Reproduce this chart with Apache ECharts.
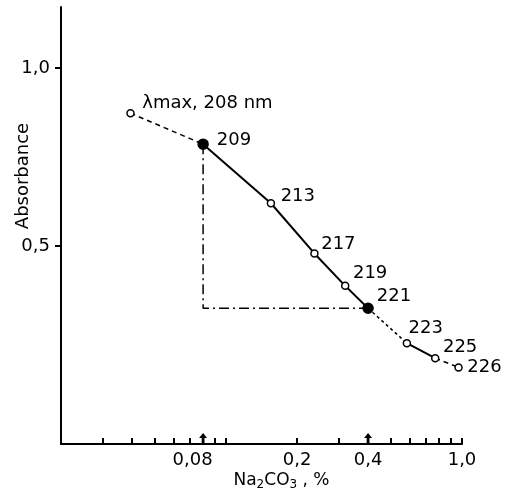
<!DOCTYPE html>
<html><head><meta charset="utf-8">
<script src="https://cdn.jsdelivr.net/npm/echarts@6/dist/echarts.min.js"></script>
<style>html,body{margin:0;padding:0;background:#fff}#c{width:511px;height:496px}</style>
</head><body><div id="c"></div>
<script>
// ---- data ----
const pointLabels   = ['λmax, 208 nm', '209', '213', '217', '219', '221', '223', '225', '226'];
const concentration = [0.0394, 0.08, 0.155, 0.237, 0.320, 0.40, 0.584, 0.770, 0.967];
const absorbance    = [0.873, 0.786, 0.620, 0.479, 0.388, 0.325, 0.227, 0.185, 0.159];
const filledPoints  = ['209', '221'];
const xTickValues   = [0.03, 0.04, 0.05, 0.06, 0.07, 0.08, 0.09, 0.1, 0.2, 0.3, 0.4, 0.5, 0.6, 0.7, 0.8, 0.9, 1.0];
const xLabelValues  = [0.08, 0.2, 0.4, 1.0];
const xLabelTexts   = ['0,08', '0,2', '0,4', '1,0'];
const yTickValues   = [0.5, 1.0];
const yLabelTexts   = ['0,5', '1,0'];
const arrowValues   = [0.08, 0.4];
const segmentTypes  = ['dashed', 'solid', 'solid', 'solid', 'solid', 'dotted', 'solid', 'dashed'];

// ---- styling ----
const X_MIN = 0.02, X_MAX = 1.0, Y_MIN = -0.0562, Y_MAX = 1.1713;
const FONT = 'DejaVu Sans';
const INK = '#000';
const labelOffsets = [[11, -10], [13, -4], [9, -7], [6, -9], [7, -13], [8, -12], [1, -15], [7, -11], [8, 0]];
const dashFor = { dashed: [5, 4], dotted: [3, 3], solid: 'solid' };

const lg = v => Math.log10(v);
const nearestIdx = (arr, v) => {
  let b = 0; for (let i = 1; i < arr.length; i++) if (Math.abs(arr[i] - v) < Math.abs(arr[b] - v)) b = i; return b;
};

const series = [];
for (let i = 0; i < concentration.length - 1; i++) {
  series.push({
    type: 'line', xAxisIndex: 0, yAxisIndex: 0, symbol: 'none', silent: true,
    data: [[concentration[i], absorbance[i]], [concentration[i + 1], absorbance[i + 1]]],
    lineStyle: { color: INK, width: segmentTypes[i] === 'solid' ? 2 : 1.5, type: dashFor[segmentTypes[i]] }
  });
}
const iA = pointLabels.indexOf(filledPoints[0]), iB = pointLabels.indexOf(filledPoints[1]);
series.push({
  type: 'line', xAxisIndex: 0, yAxisIndex: 0, symbol: 'none', silent: true,
  data: [[concentration[iA], absorbance[iA]], [concentration[iA], absorbance[iB]], [concentration[iB], absorbance[iB]]],
  lineStyle: { color: INK, width: 1.5, type: [10, 4, 2, 4] }
});
series.push({
  type: 'scatter', xAxisIndex: 0, yAxisIndex: 0, silent: true, clip: false, z: 5,
  data: pointLabels.map((name, i) => {
    const filled = filledPoints.includes(name);
    const size = filled ? 10 : 7;
    return {
      name, value: [concentration[i], absorbance[i]], symbolSize: size,
      itemStyle: { color: filled ? INK : '#fff', borderColor: INK, borderWidth: 1.5, opacity: 1 },
      label: {
        show: true, position: 'right', distance: 0, formatter: '{b}',
        offset: [labelOffsets[i][0] - size / 2, labelOffsets[i][1]],
        color: INK, opacity: 1, textBorderWidth: 0, fontFamily: FONT, fontSize: 18
      }
    };
  })
});
series.push({
  type: 'scatter', xAxisIndex: 0, yAxisIndex: 0, silent: true, clip: false, z: 6,
  symbol: 'path://M0,0 L4,5 L1.4,5 L1.4,11 L-1.4,11 L-1.4,5 L-4,5 Z',
  symbolSize: [8, 11], symbolOffset: [0, -5.5],
  itemStyle: { color: INK, opacity: 1 },
  data: arrowValues.map(v => [v, Y_MIN])
});

const option = {
  animation: false,
  backgroundColor: '#fff',
  grid: { left: 61, right: 49, top: 7, bottom: 52, containLabel: false, outerBoundsMode: 'none' },
  xAxis: [
    {
      type: 'log', logBase: 10, min: X_MIN, max: X_MAX, position: 'bottom',
      axisLine: { show: true, onZero: false, lineStyle: { color: INK, width: 2 } },
      axisTick: { show: false }, axisLabel: { show: false }, splitLine: { show: false }, minorTick: { show: false }
    },
    {
      type: 'value', min: lg(X_MIN), max: lg(X_MAX), position: 'bottom',
      axisLine: { show: false, onZero: false },
      axisTick: { show: true, inside: true, length: 6, customValues: xTickValues.map(lg), lineStyle: { color: INK, width: 2 } },
      axisLabel: {
        show: true, margin: 7, customValues: xLabelValues.map(lg),
        fontFamily: FONT, fontSize: 18, color: INK,
        formatter: v => {
          const i = nearestIdx(xLabelValues.map(lg), v);
          return i === 0 ? '{s|' + xLabelTexts[i] + '}' : xLabelTexts[i];
        },
        rich: { s: { fontFamily: FONT, fontSize: 18, color: INK, padding: [0, 21, 0, 0] } }
      },
      splitLine: { show: false },
      name: 'Na{sub|2}CO{sub|3} , %', nameLocation: 'middle', nameGap: 27, nameMoveOverlap: false,
      nameTextStyle: {
        fontFamily: FONT, fontSize: 17, color: INK, padding: [0, 0, 0, 40],
        rich: { sub: { fontFamily: FONT, fontSize: 12, color: INK, verticalAlign: 'bottom', padding: [8, 0, 0, 0] } }
      }
    }
  ],
  yAxis: {
    type: 'value', min: Y_MIN, max: Y_MAX, position: 'left',
    axisLine: { show: true, onZero: false, lineStyle: { color: INK, width: 2 } },
    axisTick: { show: true, inside: false, length: 6, customValues: yTickValues, lineStyle: { color: INK, width: 2 } },
    axisLabel: {
      show: true, margin: 11, customValues: yTickValues, fontFamily: FONT, fontSize: 18, color: INK,
      formatter: v => yLabelTexts[nearestIdx(yTickValues, v)]
    },
    splitLine: { show: false },
    name: 'Absorbance', nameLocation: 'middle', nameGap: 29, nameMoveOverlap: false,
    nameTextStyle: { fontFamily: FONT, fontSize: 18, color: INK, padding: [0, 0, 0, 99] }
  },
  series
};
echarts.init(document.getElementById('c'), null, { renderer: 'canvas' }).setOption(option);
</script>
</body></html>
